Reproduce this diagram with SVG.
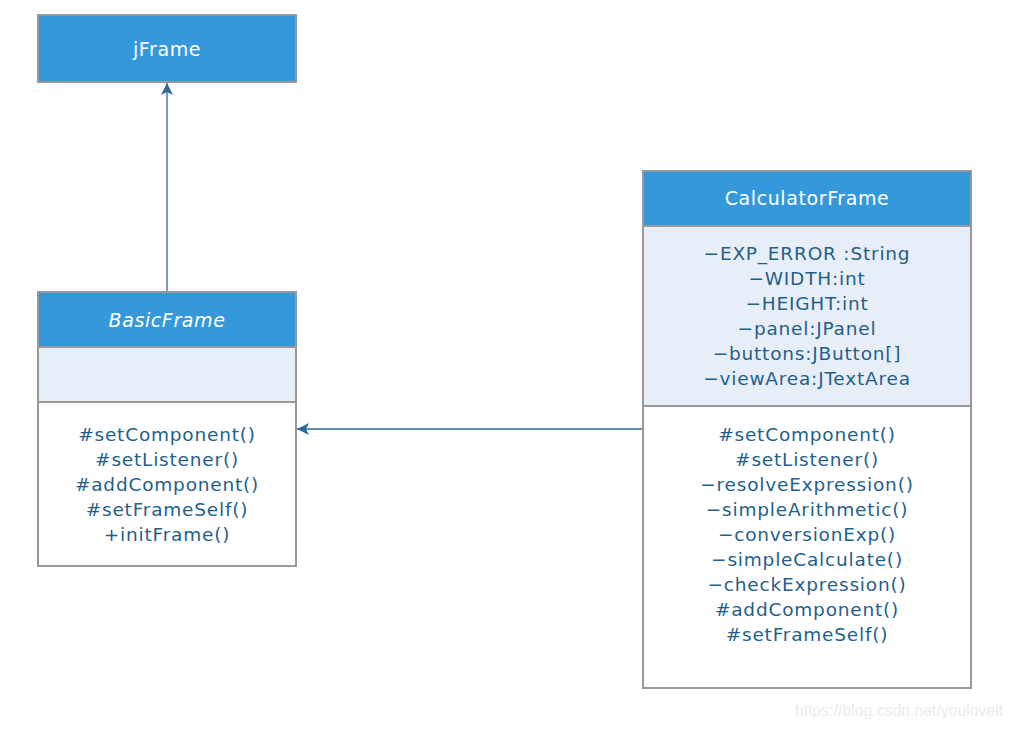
<svg xmlns="http://www.w3.org/2000/svg" width="1013" height="729" viewBox="0 0 1013 729">
<defs>
<style>
.hdr{fill:#3598db;stroke:#999;stroke-width:2}
.att{fill:#e8eef8;stroke:#999;stroke-width:2}
.mth{fill:#fff;stroke:#999;stroke-width:2}
.t{font-family:"DejaVu Sans",sans-serif;font-size:18.5px;letter-spacing:0.8px;fill:#1f5f8b;text-anchor:middle}
.h{font-family:"DejaVu Sans",sans-serif;font-size:19px;letter-spacing:0.6px;fill:#fff;text-anchor:middle}
.conn{stroke:#2a6a9a;stroke-width:1.3;fill:none}
</style>
<marker id="arr" viewBox="0 0 12 12" refX="12" refY="6" markerWidth="12" markerHeight="12" markerUnits="userSpaceOnUse" orient="auto">
<path d="M0,0 L12,6 L0,12 L3,6 Z" fill="#2a6a9a"/>
</marker>
</defs>
<rect width="1013" height="729" fill="#fff"/>
<g id="connectors">
<line class="conn" x1="167" y1="292" x2="167" y2="83" marker-end="url(#arr)"/>
<line class="conn" x1="643" y1="429" x2="297" y2="429" marker-end="url(#arr)"/>
</g>
<g id="jFrame">
<rect class="hdr" x="38" y="15" width="258" height="67"/>
<text class="h" x="167" y="56">jFrame</text>
</g>
<g id="BasicFrame">
<rect class="hdr" x="38" y="292" width="258" height="55"/>
<rect class="att" x="38" y="347" width="258" height="55"/>
<rect class="mth" x="38" y="402" width="258" height="164"/>
<text class="h" x="167" y="327" font-style="italic">BasicFrame</text>
<text class="t" x="167" y="441">#setComponent()</text>
<text class="t" x="167" y="466">#setListener()</text>
<text class="t" x="167" y="491">#addComponent()</text>
<text class="t" x="167" y="516">#setFrameSelf()</text>
<text class="t" x="167" y="541">+initFrame()</text>
</g>
<g id="CalculatorFrame">
<rect class="hdr" x="643" y="171" width="328" height="55"/>
<rect class="att" x="643" y="226" width="328" height="180"/>
<rect class="mth" x="643" y="406" width="328" height="282"/>
<text class="h" x="807" y="205">CalculatorFrame</text>
<text class="t" x="807" y="260">−EXP_ERROR :String</text>
<text class="t" x="807" y="285">−WIDTH:int</text>
<text class="t" x="807" y="310">−HEIGHT:int</text>
<text class="t" x="807" y="335">−panel:JPanel</text>
<text class="t" x="807" y="360">−buttons:JButton[]</text>
<text class="t" x="807" y="385">−viewArea:JTextArea</text>
<text class="t" x="807" y="441">#setComponent()</text>
<text class="t" x="807" y="466">#setListener()</text>
<text class="t" x="807" y="491">−resolveExpression()</text>
<text class="t" x="807" y="516">−simpleArithmetic()</text>
<text class="t" x="807" y="541">−conversionExp()</text>
<text class="t" x="807" y="566">−simpleCalculate()</text>
<text class="t" x="807" y="591">−checkExpression()</text>
<text class="t" x="807" y="616">#addComponent()</text>
<text class="t" x="807" y="641">#setFrameSelf()</text>
</g>
<text x="795" y="716" font-family="Liberation Sans, sans-serif" font-size="15.8" fill="#ebebeb">https://blog.csdn.net/youloveit</text>
</svg>
